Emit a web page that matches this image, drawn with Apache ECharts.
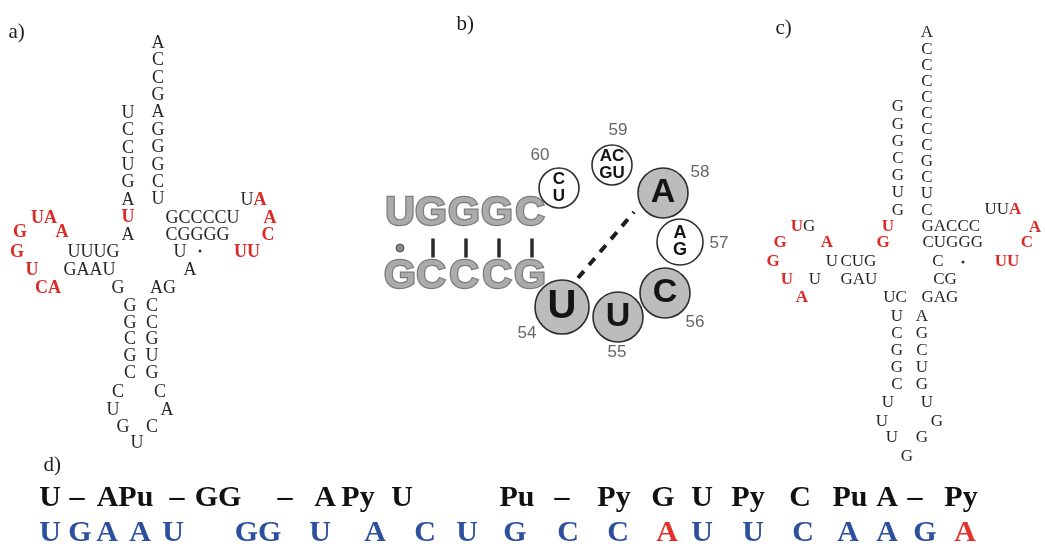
<!DOCTYPE html>
<html>
<head>
<meta charset="utf-8">
<style>html,body{margin:0;background:#fff}#chart{width:1045px;height:556px}</style>
<script src="https://cdn.jsdelivr.net/npm/echarts@6/dist/echarts.min.js"></script>
</head>
<body>
<div id="chart"></div>
<script>
// ---------- data: base sequences (lowercase = red base) ----------
// panel a
const aText = ['UCCUGAuA', 'ACCGAGGGCU', 'GCCCCU', 'CGGGG', 'U', 'A', 'Ua', 'a', 'c', 'uu',
  'ua', 'g', 'a', 'g', 'UUUG', 'u', 'GAAU', 'ca', 'G', 'AG', 'GGCGC', 'CCGUG', 'CUGUCAC'];
// panel c
const cText = ['GGGCGUG', 'ACCCCCCCGCUC', 'u', 'g', 'GACCC', 'UUa', 'a', 'c', 'CUGGG', 'uu', 'C',
  'CG', 'UC', 'GAG', 'uG', 'g', 'a', 'g', 'U', 'CUG', 'u', 'U', 'GAU', 'a', 'UCGGC', 'AGCUG', 'UUUGGGU'];
// panel b
const stemTop = ['U', 'G', 'G', 'G', 'C'];
const stemBottom = ['G', 'C', 'C', 'C', 'G'];
const pairMarks = ['dot', 'bar', 'bar', 'bar', 'bar'];
const loopNums = ['54', '55', '56', '57', '58', '59', '60'];
const loopBases = ['U', 'U', 'C', 'A\nG', 'A', 'AC\nGU', 'C\nU'];
const loopShaded = [true, true, true, false, true, false, false];
// panel d (motif row is plain text; in the sequence row lowercase = red)
const motifTokens = ['U', '–', 'APu', '–', 'GG', '–', 'A', 'Py', 'U', 'Pu', '–', 'Py', 'G', 'U', 'Py', 'C', 'Pu', 'A', '–', 'Py'];
const seqTokens = ['U', 'G', 'A', 'A', 'U', 'GG', 'U', 'A', 'C', 'U', 'G', 'C', 'C', 'a', 'U', 'U', 'C', 'A', 'A', 'G', 'a'];
const panelLabels = ['a)', 'b)', 'c)', 'd)'];

// ---------- layout ----------
const aLayout = [
  {at: [128, 113], v: 17.4}, {at: [158, 43], v: 17.4}, {at: [165, 218], left: 1}, {at: [165, 235], left: 1},
  {at: [180, 252]}, {at: [190, 270]}, {at: [240, 200], left: 1}, {at: [270, 218]}, {at: [268, 235]}, {at: [247, 252]},
  {at: [44, 218]}, {at: [20, 232]}, {at: [62, 232]}, {at: [17, 252]}, {at: [67, 252], left: 1}, {at: [32, 270]},
  {at: [63, 270], left: 1}, {at: [48, 288]}, {at: [118, 288]}, {at: [163, 288]},
  {at: [130, 306], v: 16.8}, {at: [152, 306], v: 16.8},
  {path: [[118, 392], [113, 410], [123, 427], [137, 443], [152, 427], [167, 410], [160, 392]]}
];
const cLayout = [
  {at: [898, 107], v: 17.2}, {at: [927, 33], v: 16.1}, {at: [888, 227]}, {at: [883, 243]}, {at: [921, 227], left: 1},
  {at: [984, 210], left: 1}, {at: [1035, 228]}, {at: [1027, 243]}, {at: [922, 243], left: 1}, {at: [1007, 262]},
  {at: [938, 262]}, {at: [945, 280]}, {at: [895, 298]}, {at: [921, 298], left: 1}, {at: [803, 227]},
  {at: [780, 243]}, {at: [827, 243]}, {at: [773, 262]}, {at: [832, 262]}, {at: [840, 262], left: 1},
  {at: [787, 280]}, {at: [815, 280]}, {at: [840, 280], left: 1}, {at: [802, 298]},
  {at: [897, 317], v: 17}, {at: [922, 317], v: 17},
  {path: [[888, 403], [882, 422], [892, 438], [907, 457], [922, 438], [937, 422], [927, 403]]}
];
const wobbleDots = [[200, 251], [963, 262]];
const stemX = [400, 431, 464, 497, 530];
const stemY = [214, 277, 248];
const loopCenter = [[562, 307], [618, 317], [665, 293], [680, 242], [663, 193], [612, 165], [559, 188]];
const loopRadius = [27, 25, 25, 23, 25, 20, 20];
const loopFont = [40, 34, 34, 18, 34, 17, 17];
const numPos = [[527, 333], [617, 352], [695, 322], [719, 243], [700, 172], [618, 130], [540, 155]];
const motifX = [50, 77, 125, 177, 218, 285, 325, 358, 402, 517, 562, 614, 663, 702, 748, 800, 850, 887, 915, 961];
const seqX = [50, 80, 107, 140, 173, 258, 320, 375, 425, 467, 515, 568, 618, 667, 702, 753, 803, 848, 887, 925, 965];
const labelPos = [[8, 32], [456, 24], [775, 28], [43, 465]];

const serif = '"Liberation Serif", "Times New Roman", serif';
const sans = '"Liberation Sans", Arial, sans-serif';
const hidden = {color: 'rgba(0,0,0,0)', opacity: 1};

// lowercase letters become the red rich style
function rich(s) {
  let out = '', cur = null, buf = '';
  for (const ch of s) {
    const t = ch !== ch.toUpperCase() ? 'r' : 'k';
    if (t !== cur && buf) { out += '{' + cur + '|' + buf + '}'; buf = ''; }
    cur = t; buf += ch.toUpperCase();
  }
  if (buf) out += '{' + cur + '|' + buf + '}';
  return out;
}

function glyphs(texts, layout) {
  const pts = [];
  texts.forEach((t, i) => {
    const l = layout[i];
    if (l.path) {
      [...t].forEach((ch, j) => pts.push({value: l.path[j], name: rich(ch)}));
    } else if (l.v) {
      [...t].forEach((ch, j) => pts.push({value: [l.at[0], l.at[1] + j * l.v], name: rich(ch)}));
    } else if (l.left) {
      pts.push({value: l.at, name: rich(t), label: {position: 'right', distance: 0}});
    } else {
      pts.push({value: l.at, name: rich(t)});
    }
  });
  return pts;
}

function textSeries(data, size, kColor, rColor, family, weight, rWeight) {
  return {
    type: 'scatter', silent: true, symbolSize: 1, z: 5,
    itemStyle: hidden,
    data: data,
    label: {
      show: true, position: 'inside', formatter: p => p.name,
      rich: {
        k: {color: kColor, fontSize: size, fontFamily: family, fontWeight: weight},
        r: {color: rColor, fontSize: size, fontFamily: family, fontWeight: rWeight}
      }
    }
  };
}

const stemData = [];
stemX.forEach((x, i) => {
  stemData.push({value: [x, stemY[0]], name: stemTop[i]});
  stemData.push({value: [x, stemY[1]], name: stemBottom[i]});
});

const loopData = loopBases.map((b, i) => ({
  value: loopCenter[i], name: b, symbolSize: loopRadius[i] * 2,
  itemStyle: {color: loopShaded[i] ? '#bcbcbc' : '#ffffff', opacity: 1},
  label: {fontSize: loopFont[i], lineHeight: loopFont[i] < 20 ? 17 : loopFont[i]}
}));

const chart = echarts.init(document.getElementById('chart'));
chart.setOption({
  animation: false,
  backgroundColor: '#fff',
  grid: {left: 0, right: 0, top: 0, bottom: 0},
  xAxis: {type: 'value', min: 0, max: 1045, show: false},
  yAxis: {type: 'value', min: 0, max: 556, inverse: true, show: false},
  series: [
    textSeries(glyphs(aText, aLayout), 18, '#262626', '#dc2a26', serif, 'normal', 'bold'),
    textSeries(glyphs(cText, cLayout), 17, '#262626', '#dc2a26', serif, 'normal', 'bold'),
    {
      type: 'scatter', silent: true, symbolSize: 3, itemStyle: {color: '#333', opacity: 1}, data: wobbleDots
    },
    // panel labels
    {
      type: 'scatter', silent: true, symbolSize: 1, itemStyle: hidden,
      data: panelLabels.map((t, i) => ({value: labelPos[i], name: t})),
      label: {show: true, position: 'right', distance: 0, formatter: '{b}', fontFamily: serif, fontSize: 21, color: '#1e1e1e'}
    },
    // panel b stem
    {
      type: 'scatter', silent: true, symbolSize: 1, itemStyle: hidden,
      data: stemData,
      label: {show: true, position: 'inside', formatter: '{b}', fontFamily: sans, fontWeight: 'bold', fontSize: 41,
        color: '#ababab', textBorderColor: '#7c7c7c', textBorderWidth: 2.5}
    },
    {
      type: 'scatter', silent: true,
      data: stemX.map((x, i) => ({
        value: [pairMarks[i] === 'dot' ? x : x + 2, stemY[2]],
        symbol: pairMarks[i] === 'dot' ? 'circle' : 'rect',
        symbolSize: pairMarks[i] === 'dot' ? 8 : [3.5, 19],
        itemStyle: pairMarks[i] === 'dot' ? {color: '#8a8a8a', borderColor: '#555', borderWidth: 1, opacity: 1} : {color: '#2a2a2a', opacity: 1}
      }))
    },
    {
      type: 'line', silent: true, symbol: 'none', z: 3,
      data: [[578, 278], [634, 212]],
      lineStyle: {color: '#1e1e1e', width: 4, type: [9, 8]}
    },
    {
      type: 'scatter', silent: true, z: 4,
      data: loopData,
      itemStyle: {borderColor: '#2e2e2e', borderWidth: 1.6, opacity: 1},
      label: {show: true, position: 'inside', formatter: '{b}', fontFamily: sans, fontWeight: 'bold', color: '#141414'}
    },
    {
      type: 'scatter', silent: true, symbolSize: 1, itemStyle: hidden,
      data: loopNums.map((n, i) => ({value: numPos[i], name: n})),
      label: {show: true, position: 'inside', formatter: '{b}', fontFamily: sans, fontSize: 17, color: '#666'}
    },
    // panel d
    {
      type: 'scatter', silent: true, symbolSize: 1, itemStyle: hidden, z: 5,
      data: motifTokens.map((t, i) => ({value: [motifX[i], 498], name: t})),
      label: {show: true, position: 'inside', formatter: '{b}', fontFamily: serif, fontWeight: 'bold', fontSize: 30, color: '#111'}
    },
    textSeries(seqTokens.map((t, i) => ({value: [seqX[i], 533], name: rich(t)})), 30, '#2c4f9e', '#e3302b', serif, 'bold', 'bold')
  ]
});
</script>
</body>
</html>
